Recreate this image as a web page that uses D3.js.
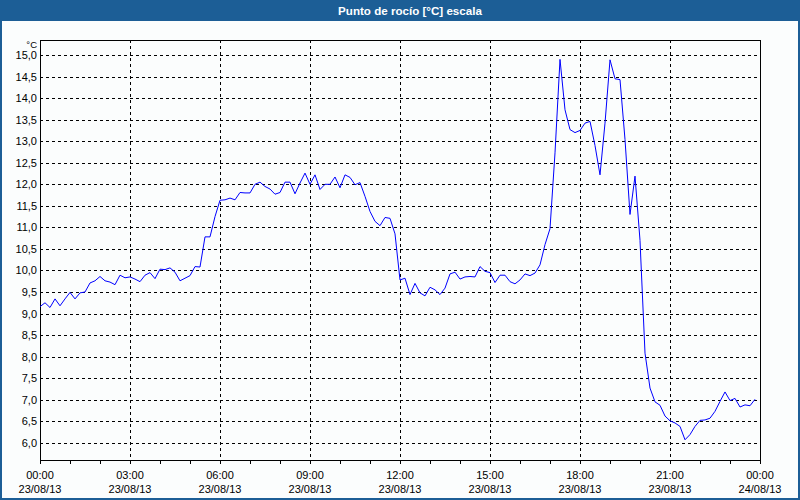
<!DOCTYPE html>
<html><head><meta charset="utf-8">
<script src="https://cdn.jsdelivr.net/npm/d3@7/dist/d3.min.js"></script>
<style>
html,body{margin:0;padding:0;background:#fff;}
svg{display:block;}
</style></head>
<body>
<svg id="chart" width="800" height="500"></svg>
<script>
// ---- data ----
const title = "Punto de rocío [°C] escala";
const unitLabel = "°C";
const startDate = [2013, 7, 23, 0, 0]; // 23/08/13 00:00 (month 0-based)
const endDate = [2013, 7, 24, 0, 0];
const stepMinutes = 10;
const dewPoint = [
  9.16, 9.25, 9.14, 9.34, 9.18, 9.34, 9.49, 9.34, 9.48, 9.50,
  9.71, 9.76, 9.86, 9.76, 9.73, 9.67, 9.89, 9.83, 9.85, 9.80,
  9.74, 9.89, 9.95, 9.81, 10.03, 10.02, 10.06, 9.96, 9.76, 9.82,
  9.88, 10.09, 10.08, 10.78, 10.78, 11.25, 11.63, 11.64, 11.68, 11.64,
  11.81, 11.80, 11.80, 12.00, 12.05, 11.95, 11.89, 11.77, 11.81, 12.05,
  12.05, 11.78, 12.03, 12.26, 12.00, 12.22, 11.88, 12.00, 12.00, 12.17,
  11.92, 12.22, 12.16, 11.99, 12.04, 11.72, 11.37, 11.14, 11.04, 11.23,
  11.21, 10.85, 9.78, 9.82, 9.44, 9.70, 9.48, 9.41, 9.61, 9.55,
  9.44, 9.59, 9.92, 9.96, 9.80, 9.85, 9.86, 9.85, 10.09, 9.98,
  9.95, 9.72, 9.89, 9.89, 9.74, 9.69, 9.78, 9.92, 9.88, 9.94,
  10.13, 10.60, 10.97, 12.73, 14.90, 13.73, 13.27, 13.20, 13.25, 13.42,
  13.46, 12.90, 12.22, 13.42, 14.89, 14.45, 14.43, 13.04, 11.30, 12.19,
  10.70, 8.08, 7.27, 6.95, 6.87, 6.62, 6.51, 6.46, 6.38, 6.07,
  6.19, 6.38, 6.52, 6.53, 6.57, 6.73, 6.96, 7.18, 6.98, 7.03,
  6.83, 6.88, 6.86, 7.01
];
const yTickValues = [6.0, 6.5, 7.0, 7.5, 8.0, 8.5, 9.0, 9.5, 10.0, 10.5, 11.0, 11.5, 12.0, 12.5, 13.0, 13.5, 14.0, 14.5, 15.0];
const yDomain = [5.6, 15.35];
const majorTickHours = 3;
const minorTickHours = 1;

// ---- layout ----
const W = 800, H = 500;
const plot = {left: 40, right: 760, top: 40, bottom: 460};
const blue = "#1c5e96";
const font = "'Liberation Sans', Arial, sans-serif";

const svg = d3.select("#chart");
svg.append("rect").attr("x", 0).attr("y", 0).attr("width", W).attr("height", H).attr("fill", "#fbfdfd");
svg.append("rect").attr("x", 0).attr("y", 0).attr("width", W).attr("height", 21).attr("fill", blue);
svg.append("rect").attr("x", 1).attr("y", 1).attr("width", W - 2).attr("height", H - 2)
  .attr("fill", "none").attr("stroke", blue).attr("stroke-width", 2);
svg.append("text").attr("x", 410).attr("y", 15).attr("text-anchor", "middle")
  .attr("font-family", font).attr("font-weight", "bold").attr("font-size", "11.6px")
  .attr("fill", "#ffffff").text(title);

const t0 = new Date(...startDate), t1 = new Date(...endDate);
const data = dewPoint.map((v, i) => ({t: new Date(t0.getTime() + i * stepMinutes * 60000), v}));

const x = d3.scaleTime().domain([t0, t1]).range([plot.left, plot.right]);
const y = d3.scaleLinear().domain(yDomain).range([plot.bottom, plot.top]);
const px = v => Math.round(v) + 0.5;

const g = svg.append("g");
// horizontal grid
g.selectAll("line.hg").data(yTickValues).join("line")
  .attr("x1", plot.left).attr("x2", plot.right)
  .attr("y1", d => px(y(d))).attr("y2", d => px(y(d)))
  .attr("stroke", "#000").attr("stroke-dasharray", "3,3").attr("shape-rendering", "crispEdges");
// vertical grid
const majorTicks = x.ticks(d3.timeHour.every(majorTickHours));
const minorTicks = x.ticks(d3.timeHour.every(minorTickHours));
g.selectAll("line.vg").data(majorTicks.slice(1, -1)).join("line")
  .attr("y1", plot.top).attr("y2", plot.bottom)
  .attr("x1", d => px(x(d))).attr("x2", d => px(x(d)))
  .attr("stroke", "#000").attr("stroke-dasharray", "3,3").attr("shape-rendering", "crispEdges");

// frame
svg.append("rect").attr("x", plot.left + 0.5).attr("y", plot.top + 0.5)
  .attr("width", plot.right - plot.left).attr("height", plot.bottom - plot.top)
  .attr("fill", "none").attr("stroke", "#000").attr("shape-rendering", "crispEdges");

// x minor ticks
svg.selectAll("line.xt").data(minorTicks).join("line")
  .attr("x1", d => px(x(d))).attr("x2", d => px(x(d)))
  .attr("y1", plot.bottom).attr("y2", plot.bottom + 4)
  .attr("stroke", "#000").attr("shape-rendering", "crispEdges");

// x labels
const fTime = d3.timeFormat("%H:%M"), fDate = d3.timeFormat("%d/%m/%y");
const xl = svg.selectAll("g.xl").data(majorTicks).join("g");
xl.append("text").attr("x", d => x(d)).attr("y", 479).attr("text-anchor", "middle")
  .attr("font-family", font).attr("font-size", "11px").attr("fill", "#000").text(d => fTime(d));
xl.append("text").attr("x", d => x(d)).attr("y", 493).attr("text-anchor", "middle")
  .attr("font-family", font).attr("font-size", "11px").attr("fill", "#000").text(d => fDate(d));

// y labels
const fY = d => d3.format(".1f")(d).replace(".", ",");
svg.selectAll("text.yl").data(yTickValues).join("text")
  .attr("x", 37).attr("y", d => y(d) + 4).attr("text-anchor", "end")
  .attr("font-family", font).attr("font-size", "11px").attr("fill", "#000").text(fY);
svg.append("text").attr("x", 37).attr("y", 47.5).attr("text-anchor", "end")
  .attr("font-family", font).attr("font-size", "9.5px").attr("fill", "#000").text(unitLabel);

// line
const line = d3.line().x(d => x(d.t)).y(d => y(d.v));
svg.append("path").datum(data).attr("d", line)
  .attr("fill", "none").attr("stroke", "#0000ff").attr("stroke-width", 1);
</script>
</body></html>
